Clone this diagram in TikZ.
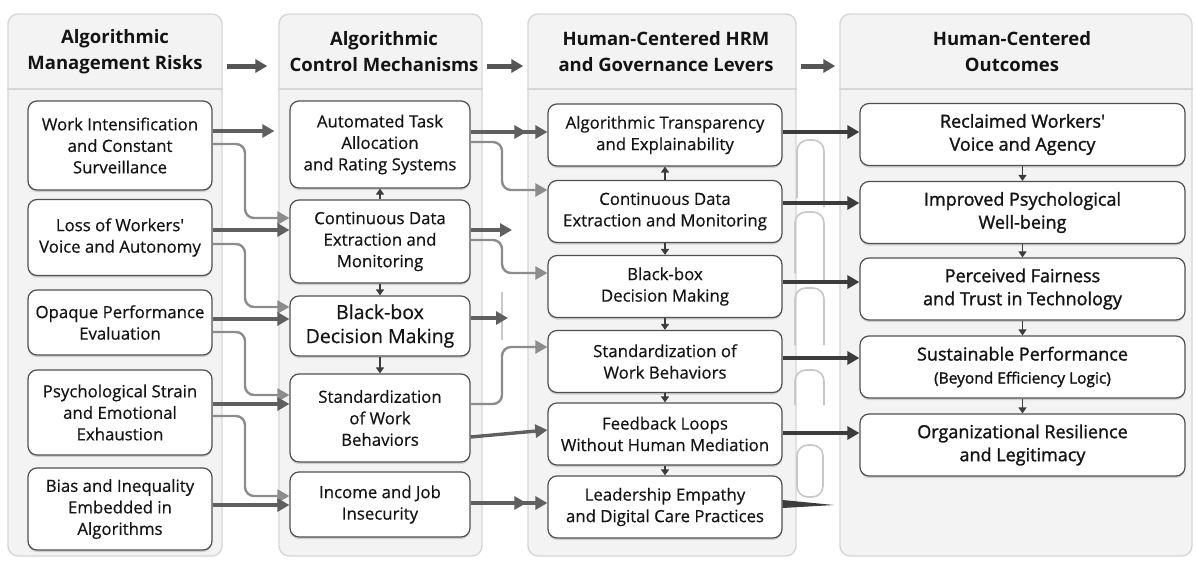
\documentclass[tikz,border=0pt]{standalone}
\usepackage{fontspec}
\setmainfont{Open Sans}
\newfontfamily\boxfont[FakeBold=0.5]{Open Sans}
\newfontfamily\semib[FakeBold=1.4]{Open Sans}
\usetikzlibrary{arrows.meta,calc,shadows}

\begin{document}
\begin{tikzpicture}[x=1pt, y=-1pt,
		>={Triangle[length=12pt,width=13pt]},
		panel/.style={draw=panelline, fill=panelfill, rounded corners=10pt, line width=1.4pt},
		head/.style={align=center, text=textc, font=\fontsize{18.5}{26}\selectfont\bfseries},
		box/.style={draw=boxline, fill=white, rounded corners=9pt, line width=1.2pt, align=center,
			inner sep=2pt, text=textc, font=\fontsize{16.8}{21.5}\boxfont,
			drop shadow={shadow xshift=0pt, shadow yshift=-2pt, opacity=0.3}},
		risk/.style={box, minimum width=184pt},
		ctrl/.style={box, minimum width=180pt},
		lever/.style={box, minimum width=234pt, minimum height=62pt},
		outcome/.style={box, minimum width=325pt, minimum height=62pt, font=\fontsize{18}{23}\semib},
		harrow/.style={->, line width=5pt, draw=harrowc},
		link/.style={->, line width=3.4pt, draw=linkc},
		twin/.style={link, postaction={draw=linkc, shorten >=21pt}},
		bent/.style={->, line width=2.4pt, draw=bentc, rounded corners=9pt},
		lev/.style={->, line width=3.4pt, draw=levc},
		tick/.style={-{Triangle[length=6pt,width=8pt]}, line width=1.6pt, draw=levc},
		ghost/.style={draw=ghostc, line width=1.6pt, rounded corners=11pt},
	]
	\definecolor{panelfill}{RGB}{243,243,243}
	\definecolor{panelline}{RGB}{214,214,214}
	\definecolor{boxline}{RGB}{80,80,80}
	\definecolor{textc}{RGB}{20,20,20}
	\definecolor{harrowc}{RGB}{85,85,85}
	\definecolor{linkc}{RGB}{95,95,95}
	\definecolor{bentc}{RGB}{140,140,140}
	\definecolor{levc}{RGB}{60,60,60}
	\definecolor{ghostc}{RGB}{200,200,200}
	
	\useasboundingbox (0,0) rectangle (1197,562);
	
	% 四个分栏底板
	\node[panel, minimum width=214pt, minimum height=542pt] (p1) at (115,285) {};
	\node[panel, minimum width=203pt, minimum height=542pt] (p2) at (380.5,285) {};
	\node[panel, minimum width=268pt, minimum height=542pt] (p3) at (662,285) {};
	\node[panel, minimum width=352pt, minimum height=542pt] (p4) at (1016,285) {};
	\foreach \p in {p1,p2,p3,p4}
		\draw[panelline, line width=1.2pt] (\p.west |- 0,89) -- (\p.east |- 0,89);
	
	% 栏目标题
	\node[head] (t1) at (115,52) {Algorithmic\\Management Risks};
	\node[head] (t2) at (384,52) {Algorithmic\\Control Mechanisms};
	\node[head] (t3) at (666,52) {Human-Centered HRM\\and Governance Levers};
	\node[head] (t4) at (1012,52) {Human-Centered\\Outcomes};
	\draw[harrow] ($(p1.east |- t1)+(4,14)$) -- ($(p2.west |- t1)+(-11,14)$);
	\draw[harrow] ($(p2.east |- t1)+(4,14)$) -- ($(p3.west |- t1)+(-4,14)$);
	\draw[harrow] ($(p3.east |- t1)+(4,14)$) -- ($(p4.west |- t1)+(-4,14)$);
	
	% 第一栏：风险
	\node[risk, minimum height=89pt] (r1) at (120,145.5) {Work Intensification\\and Constant\\Surveillance};
	\node[risk, minimum height=76pt] (r2) at (120,237.5) {Loss of Workers'\\Voice and Autonomy};
	\node[risk, minimum height=65pt] (r3) at (120,322.5) {Opaque Performance\\Evaluation};
	\node[risk, minimum height=85pt] (r4) at (120,412.5) {Psychological Strain\\and Emotional\\Exhaustion};
	\node[risk, minimum height=82pt] (r5) at (120,509) {Bias and Inequality\\Embedded in\\Algorithms};
	
	% 第二栏：控制机制
	\node[ctrl, minimum height=87pt] (c1) at (380,144.5) {Automated Task\\Allocation\\and Rating Systems};
	\node[ctrl, minimum height=83pt] (c2) at (380,241.5) {Continuous Data\\Extraction and\\Monitoring};
	\node[ctrl, minimum height=60pt, font=\fontsize{19.5}{24}\boxfont] (c3) at (380,326) {Black-box\\Decision Making};
	\node[ctrl, minimum height=88pt] (c4) at (380,418) {Standardization\\of Work\\Behaviors};
	\node[ctrl, minimum height=65pt] (c5) at (380,504.5) {Income and Job\\Insecurity};
	
	% 第三栏：治理杠杆
	\node[lever] (h1) at (665,135) {Algorithmic Transparency\\and Explainability};
	\node[lever] (h2) at (665,211.5) {Continuous Data\\Extraction and Monitoring};
	\node[lever] (h3) at (665,286.5) {Black-box\\Decision Making};
	\node[lever] (h4) at (665,361.5) {Standardization of\\Work Behaviors};
	\node[lever] (h5) at (665,434) {Feedback Loops\\Without Human Mediation};
	\node[lever] (h6) at (665,507) {Leadership Empathy\\and Digital Care Practices};
	
	% 第四栏：结果
	\node[outcome] (o1) at (1022.5,134.5) {Reclaimed Workers'\\Voice and Agency};
	\node[outcome] (o2) at (1022.5,212.5) {Improved Psychological\\Well-being};
	\node[outcome] (o3) at (1022.5,289) {Perceived Fairness\\and Trust in Technology};
	\node[outcome] (o4) at (1022.5,367) {Sustainable Performance\\{\fontsize{15.5}{18}\semib(Beyond Efficiency Logic)}};
	\node[outcome] (o5) at (1022.5,445) {Organizational Resilience\\and Legitimacy};
	
	% 栏间拐点
	\coordinate (g1) at (245,0);
	\coordinate (g2) at (502,0);
	
	% 风险 -> 控制
	\draw[link, shorten >=15pt] (r1.east |- 0,131) -- (c1.west |- 0,131);
	\draw[bent] (r1.east |- 0,144) -- (g1 |- 0,144) -- (g1 |- 0,218) -- (c2.west |- 0,218);
	\draw[link] (r2.east |- 0,230) -- (c2.west |- 0,230);
	\draw[bent] (r2.east |- 0,244) -- (g1 |- 0,244) -- (g1 |- 0,307) -- (c3.west |- 0,307);
	\draw[link] (r3.east |- 0,319) -- (c3.west |- 0,319);
	\draw[bent] (r3.east |- 0,332) -- (g1 |- 0,332) -- (g1 |- 0,395) -- (c4.west |- 0,395);
	\draw[link] (r4.east |- 0,404) -- (c4.west |- 0,404);
	\draw[bent] (r4.east |- 0,416) -- (g1 |- 0,416) -- (g1 |- 0,496) -- (c5.west |- 0,496);
	\draw[link] (r5.east |- 0,505) -- (c5.west |- 0,505);
	
	% 控制 -> 杠杆
	\coordinate (d1) at (512,230);
	\coordinate (d2) at (508,318);
	\draw[ghost] (g2 |- 0,292) -- (g2 |- 0,340);
	\draw[twin] (c1.east |- 0,132) -- (h1.west |- 0,132);
	\draw[bent] (c1.east |- 0,142) -- (g2 |- 0,142) -- (g2 |- 0,190) -- (h2.west |- 0,190);
	\draw[link] (c2.east |- 0,230) -- (d1);
	\draw[bent] (c2.east |- 0,240) -- (g2 |- 0,240) -- (g2 |- 0,273) -- (h3.west |- 0,273);
	\draw[link] (c3.east |- 0,318) -- (d2);
	\draw[bent] (c4.east |- 0,404) -- (g2 |- 0,404) -- (g2 |- 0,347) -- (h4.west |- 0,347);
	\draw[link] (c4.east |- 0,437) -- (h5.west |- 0,430);
	\draw[twin] (c5.east |- 0,503) -- (h6.west |- 0,503);
	
	% 杠杆与结果之间的浅色回环
	\draw[ghost] (797,198) -- (797,140) -- (824,140) -- (824,207);
	\draw[ghost] (795,273) -- (795,212) -- (824,212) -- (824,280);
	\draw[ghost] (795,345) -- (795,288) -- (824,288) -- (824,345);
	\draw[ghost] (795,405) -- (795,370) -- (824,370) -- (824,405);
	\draw[ghost] (797,445) rectangle (823,497);
	
	% 杠杆 -> 结果
	\draw[lev] (h1.east |- 0,132) -- (o1.west |- 0,132);
	\draw[lev] (h2.east |- 0,203) -- (o2.west |- 0,203);
	\draw[lev] (h3.east |- 0,282) -- (o3.west |- 0,282);
	\draw[lev] (h4.east |- 0,358) -- (o4.west |- 0,358);
	\draw[lev] (h5.east |- 0,433) -- (o5.west |- 0,433);
	\coordinate (d3) at (834,505);
	\fill[levc] (h6.east |- 0,500) -- (d3) -- (h6.east |- 0,508) -- cycle;
	
	% 栏内小箭头
	\draw[tick] (c2.north) -- (c1.south);
	\draw[tick] (c2.south) -- (c3.north);
	\draw[tick] (c3.south) -- (c4.north);
	\draw[tick] (h2.north) -- (h1.south);
	\foreach \a/\b in {h2/h3,h3/h4,h4/h5,h5/h6,o1/o2,o2/o3,o3/o4,o4/o5}
		\draw[tick] (\a.south) -- (\b.north);
\end{tikzpicture}
\end{document}
